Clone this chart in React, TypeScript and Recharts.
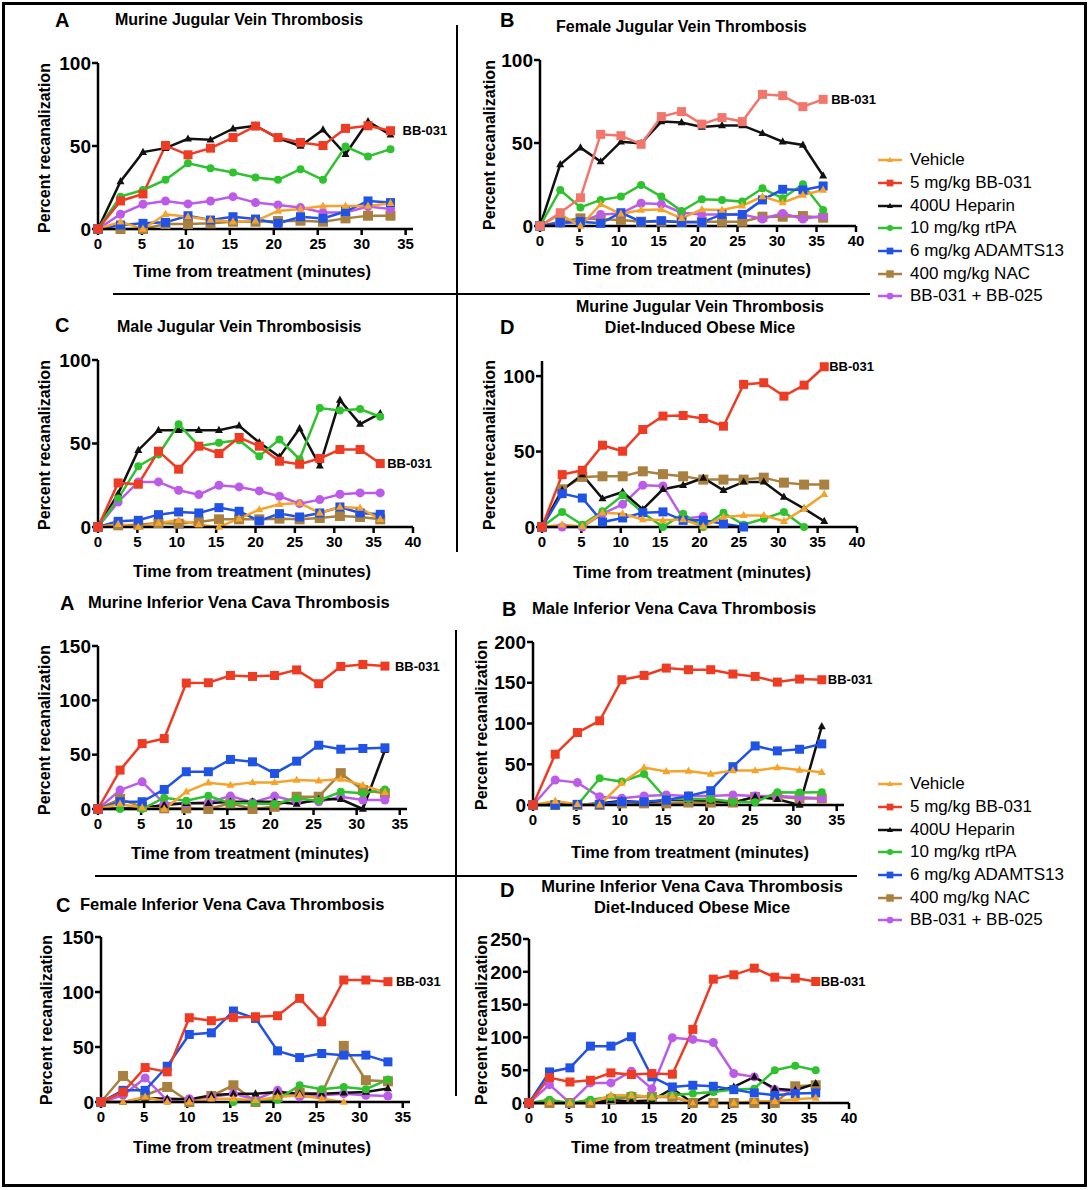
import React from "react";
import { LineChart, Line, XAxis, YAxis, LabelList } from "recharts";

type Key = "vehicle" | "bb031" | "heparin" | "rtpa" | "ada" | "nac" | "combo";
type Shape = "square" | "triangle" | "circle";
type Series = Partial<Record<Key, (number | null)[]>>;

const FONT = "'Liberation Sans', Arial, Helvetica, sans-serif";

// sampling times (minutes)
const TIME = [0, 2.56, 5.12, 7.68, 10.24, 12.8, 15.36, 17.92, 20.48, 23.04, 25.6, 28.16, 30.72, 33.28, 35.84];

const X_TICKS_35 = [0, 5, 10, 15, 20, 25, 30, 35];
const X_TICKS_40 = [0, 5, 10, 15, 20, 25, 30, 35, 40];

const GROUPS: { key: Key; name: string; color: string; shape: Shape; size: number }[] = [
  { key: "vehicle", name: "Vehicle", color: "#F5A32A", shape: "triangle", size: 8 },
  { key: "bb031", name: "5 mg/kg BB-031", color: "#EE3B24", shape: "square", size: 9 },
  { key: "heparin", name: "400U Heparin", color: "#111111", shape: "triangle", size: 8 },
  { key: "rtpa", name: "10 mg/kg rtPA", color: "#2EC22E", shape: "circle", size: 8 },
  { key: "ada", name: "6 mg/kg ADAMTS13", color: "#2052E6", shape: "square", size: 9 },
  { key: "nac", name: "400 mg/kg NAC", color: "#A9803F", shape: "square", size: 10 },
  { key: "combo", name: "BB-031 + BB-025", color: "#BC5BEA", shape: "circle", size: 9 },
];
const DRAW_ORDER: Key[] = ["nac", "combo", "heparin", "rtpa", "ada", "vehicle", "bb031"];

// jugular vein, all mice
const jvMurine: Series = {
  vehicle: [0, 4.4, 0, 8.9, 7.4, 5.4, 4.4, 4.8, 10.9, 12.1, 13.9, 13.9, 13.9, 15.5],
  bb031: [0, 16.9, 21.1, 50.3, 44.7, 48.7, 55.1, 62, 55.1, 52.1, 50.3, 60.6, 62.2, 59.2],
  heparin: [0, 28.6, 46.3, 48.7, 54.3, 53.7, 60.4, 62.2, 54.7, 50, 59.8, 45, 64.8, 56.7],
  rtpa: [0, 19.5, 23.5, 29.6, 39.6, 36.6, 34, 31, 29.6, 36, 29.6, 49.7, 43.7, 48.1],
  ada: [0, 2.4, 3.4, 4, 8, 5.4, 7.4, 6, 3.4, 7.4, 6.4, 10.5, 16.9, 15.9],
  nac: [0, 0, 0, 3, 3, 3.4, 4.4, 4.4, 4.8, 5, 4.4, 6.4, 8, 8],
  combo: [0, 8.9, 14.9, 16.9, 15.1, 16.9, 19.5, 15.9, 14.5, 12.9, 9.9, 9.9, 13.5, 12.1],
};

// jugular vein, female
const jvFemale: Series = {
  vehicle: [0, 7, 0, 13.1, 7.2, 9.6, 10, 4.6, 10, 9.6, 12.2, 17.7, 14.1, 18.7, 21.7],
  bb031: [0, 8, 17, 55.2, 54.4, 49.2, 65.9, 68.9, 61.4, 65.3, 62.9, 79.3, 78.5, 71.9, 76.3],
  heparin: [0, 37.1, 47.2, 38.8, 50.8, 49.8, 62.9, 62.4, 59.6, 60.6, 60.6, 55.8, 50.8, 48.8, 30.3],
  rtpa: [0, 21.7, 11.2, 15.7, 17.7, 24.7, 17.7, 9, 16.1, 15.7, 14.7, 22.7, 16.7, 25.1, 9.6],
  ada: [0, 2, 2.6, 1.6, 8, 2.6, 3.2, 2.2, 2.2, 7, 7, 15.7, 22.1, 21.7, 24.1],
  nac: [0, 2.6, 4.6, 4, 3.6, 2.6, 2.6, 2.6, 2.6, 2.6, 2.6, 5.6, 5.6, 6, 5],
  combo: [0, 1.6, 2.6, 7, 7.6, 13.7, 13.2, 8, 7, 7, 7, 4.2, 7.6, 4.2, 6.2],
};

// jugular vein, male
const jvMale: Series = {
  vehicle: [0, 1.6, 0, 2.4, 4, 1.4, 0, 5, 10.4, 13.6, 14.4, 8.4, 12, 11.4, 4.6],
  bb031: [0, 26.4, 25.6, 45.4, 34.6, 48.4, 44, 53.6, 48.4, 39.4, 37.6, 41, 46.4, 46.4, 38],
  heparin: [0, 20, 46, 58, 58, 58, 58, 60.6, 50.6, 42, 59, 36.6, 76, 61.6, 68],
  rtpa: [0, 17, 36.4, 43.4, 61.6, 48.4, 50.4, 52, 42.4, 52.4, 40.6, 71.2, 69.8, 70.6, 66],
  ada: [0, 3.4, 4, 7.4, 9, 8.4, 11.6, 9.4, 3.6, 8, 6, 8.4, 12, 8.4, 7.6],
  nac: [0, 1, 1.4, 2.4, 2, 3, 4.6, 4.6, 4.6, 5, 4.6, 5.4, 6.6, 6, 4.6],
  combo: [0, 15, 27, 27, 22, 19.4, 25, 24, 21.6, 18.4, 14, 16.4, 19.6, 20.4, 20.4],
};

// jugular vein, diet-induced obese
const jvObese: Series = {
  vehicle: [0, 1.5, 0.4, 9.5, 8.8, 5, 4.4, 5, 0.4, 6.6, 7.7, 7.7, 3.8, 12.2, 21.7],
  bb031: [0, 34.7, 37.6, 54.2, 50.2, 64.6, 73.5, 73.9, 71.9, 66.8, 94.5, 95.6, 86.7, 94, 106.2],
  heparin: [0, 24.3, 34.7, 18.8, 23.2, 11.7, 25, 27.7, 32.5, 24.3, 29.9, 29.9, 19.9, 12.2, 3.8],
  rtpa: [0, 10, 1.5, 10.4, 21, 9.5, 0, 8.8, 0, 9.5, 1.5, 5.5, 10, 0],
  ada: [0, 22.1, 19.2, 3.3, 6, 9.5, 10, 4.4, 4.4, 2.2, 0],
  nac: [0, 25, 33.2, 33.6, 33.6, 36.9, 35, 33.6, 31.4, 31.4, 31.4, 32.7, 29.4, 28.1, 28.1],
  combo: [0, 0, 0, 8.8, 15, 27.7, 27.2, 5.5, 7],
};

// inferior vena cava, all mice
const ivcMurine: Series = {
  vehicle: [0, 4.6, 1.2, 0, 15.9, 24.2, 22, 24.5, 24.5, 26.6, 26, 27.5, 22, 15.3],
  bb031: [0, 35.8, 60.2, 64.8, 115.9, 116.2, 122.9, 122, 122.9, 128, 115.3, 131.2, 133, 131.5],
  heparin: [0, 0.6, 1.2, 3.7, 5.2, 5.2, 6.7, 6.7, 6.7, 4.6, 8.9, 8.9, 0, 54.1],
  rtpa: [0, 0, 0, 10.4, 7.6, 12.2, 5.2, 5.2, 4.6, 9.8, 7.6, 15.9, 14.4, 18],
  ada: [0, 6.7, 6.7, 18, 34.3, 34.3, 45.6, 43.4, 32.7, 44, 58.7, 55, 55.7, 56.3],
  nac: [0, 9.2, 2, 0.6, 0.6, 0, 5.2, 0, 2, 11.3, 11.3, 33, 17.4, 14.4],
  combo: [0, 17.4, 25, 5.2, 5.2, 6.1, 11.9, 6.1, 11.9, 6.7, 6.7, 11.3, 8.3, 8.3],
};

// inferior vena cava, male
const ivcMale: Series = {
  vehicle: [0, 5, 0.8, 0, 27, 45.9, 41, 41.8, 38.1, 42.2, 42.2, 45.9, 43, 40.2],
  bb031: [0, 62.3, 88.9, 103.3, 153.7, 159, 168, 166, 166, 160.7, 157.8, 150.8, 154.5, 153.7],
  heparin: [0, 2, 0, 2, 5.3, 2.9, 6.1, 6.1, 5.3, 2.9, 10.2, 7, 0, 96.3],
  rtpa: [0, 0, 0, 32.8, 28.7, 38.1, 7.4, 7.4, 7.4, 4, 3.3, 15.6, 15.2, 15.6],
  ada: [0, 0, 0.8, 0.8, 4, 4, 6, 11, 17.6, 47, 72.5, 66.4, 68.4, 75],
  nac: [0, 0, 0, 0, 2, 2, 2, 3, 3, 3, 10, 10, 8, 8],
  combo: [0, 30.7, 27.5, 10.2, 8.2, 11, 12.3, 11, 11, 12.3, 11, 11, 9.4, 8.2],
};

// inferior vena cava, female
const ivcFemale: Series = {
  vehicle: [0, 0, 4.6, 0, 0, 3, 3, 1.5, 4.6, 6.1, 3, 0],
  bb031: [0, 9.1, 31.3, 27.4, 76.6, 73.9, 76.9, 77.5, 78.4, 94.2, 72.9, 110.9, 110.9, 109.4],
  heparin: [0, 0, 3.6, 3, 2.4, 6.1, 7.6, 7.6, 9.1, 7.6, 7.6, 8.5, 9.1, 12.2],
  rtpa: [null, null, null, null, null, null, 0, 0, 2, 15.2, 11.6, 13.7, 11.6, 20.4],
  ada: [0, 10.6, 10.6, 32.5, 61.4, 62.9, 82.7, 76, 46.5, 40.4, 44.1, 42.6, 42.6, 36.5],
  nac: [0, 23.7, 6.1, 13.7, 0, 5.5, 15.2, 0, 4.6, 8.5, 7.6, 51, 19.8, 18.8],
  combo: [0, 6.1, 21.9, 1.5, 3, 4.6, 7.6, 2.1, 10.6, 4.6, 6.1, 7.6, 6.1, 5.5],
};

// inferior vena cava, diet-induced obese
const ivcObese: Series = {
  vehicle: [0, 0, 0, 0, 11.7, 11.7, 9.2, 10.7, 0, 0, 0, 2.6, 2.6, 5.6, 7.7],
  bb031: [0, 38.8, 32, 34.7, 45.9, 43.4, 44.9, 43.9, 112.2, 188.8, 195.4, 205.6, 191.8, 190.3, 185.2],
  heparin: [0, 0, 0, 0, 4, 2.6, 4, 21.9, 0, 16.8, 24.5, 39.8, 21.9, 19.4, 29.6],
  rtpa: [0, 5.1, 0, 5.1, 9.2, 11.7, 9.2, 11.7, 14.3, 16.8, 20.4, 21.9, 50, 56.6, 50],
  ada: [0, 47.4, 53.6, 86.7, 86.7, 101, 39.8, 24.5, 27, 25.5, 20.4, 15.3, 11.7, 14.3, 15.3],
  nac: [0, 0, 0, 0, 5.6, 9.2, 9.2, 9.2, 0, 0, 0, 0, 0, 25.5, 27],
  combo: [0, 28, 0, 30.6, 30.6, 48.5, 21.9, 99.5, 96.9, 92.3, 44.9, 39.8, 20.4, 16.8],
};

function mark(shape: Shape, color: string, cx: number, cy: number, s: number, key?: string) {
  if (shape === "square") {
    return <rect key={key} x={cx - s / 2} y={cy - s / 2} width={s} height={s} fill={color} />;
  }
  if (shape === "circle") {
    return <circle key={key} cx={cx} cy={cy} r={s / 2} fill={color} />;
  }
  const h = s * 0.9;
  return (
    <polygon
      key={key}
      points={`${cx},${cy - h * 0.62} ${cx - s / 2},${cy + h * 0.38} ${cx + s / 2},${cy + h * 0.38}`}
      fill={color}
    />
  );
}

function Txt({
  x, y, size, bold = true, center = false, children,
}: { x: number; y: number; size: number; bold?: boolean; center?: boolean; children: React.ReactNode }) {
  return (
    <div
      style={{
        position: "absolute",
        left: x,
        top: y - size * 0.6,
        fontSize: size,
        lineHeight: `${size * 1.2}px`,
        fontWeight: bold ? 700 : 400,
        whiteSpace: "nowrap",
        textAlign: center ? "center" : "left",
        transform: center ? "translateX(-50%)" : undefined,
      }}
    >
      {children}
    </div>
  );
}

interface PanelProps {
  series: Series;
  xMax: number;
  xTicks: number[];
  yMax: number;
  yTicks: number[];
  axisX: number;
  xEnd: number;
  yTop: number;
  yZero: number;
  tagDx: number;
  redColor?: string;
  xTitle: [number, number];
  yLabel: [number, number];
}

function Panel(p: PanelProps) {
  const mLeft = 60;
  const mTop = 12;
  const mRight = 70;
  const mBottom = 32;
  const w = p.xEnd - p.axisX + mLeft + mRight;
  const h = p.yZero - p.yTop + mTop + mBottom;
  const rows = TIME.map((t, i) => {
    const row: Record<string, number | null | undefined> = { t };
    GROUPS.forEach((g) => {
      const arr = p.series[g.key];
      row[g.key] = arr && i < arr.length ? arr[i] : undefined;
    });
    return row;
  });
  const lastRed = (p.series.bb031 ?? []).length - 1;
  const axisStyle = { stroke: "#000", strokeWidth: 2.5 };

  return (
    <>
      <div style={{ position: "absolute", left: p.axisX - mLeft, top: p.yTop - mTop }}>
        <LineChart width={w} height={h} data={rows} margin={{ top: mTop, right: mRight, left: 0, bottom: 0 }}>
          <XAxis
            type="number"
            dataKey="t"
            domain={[0, p.xMax]}
            ticks={p.xTicks}
            interval={0}
            height={mBottom}
            tickSize={6}
            tickMargin={3}
            axisLine={axisStyle}
            tickLine={axisStyle}
            tick={{ fontSize: 15, fontWeight: 700, fill: "#000", fontFamily: FONT }}
          />
          <YAxis
            type="number"
            domain={[0, p.yMax]}
            ticks={p.yTicks}
            interval={0}
            width={mLeft}
            tickSize={6}
            tickMargin={1}
            axisLine={axisStyle}
            tickLine={axisStyle}
            tick={{ fontSize: 19, fontWeight: 700, fill: "#000", fontFamily: FONT }}
          />
          {DRAW_ORDER.map((k) => {
            const g = GROUPS.find((x) => x.key === k)!;
            if (!p.series[k]) return null;
            const color = k === "bb031" && p.redColor ? p.redColor : g.color;
            return (
              <Line
                key={k}
                dataKey={k}
                type="linear"
                stroke={color}
                strokeWidth={2.5}
                isAnimationActive={false}
                activeDot={false}
                dot={(d: any) => {
                  if (d.cx == null || d.cy == null || d.value == null || Number.isNaN(d.cy)) {
                    return <g key={`e${d.index}`} />;
                  }
                  return mark(g.shape, color, d.cx, d.cy, g.size, `m${d.index}`);
                }}
              >
                {k === "bb031" && (
                  <LabelList
                    dataKey={k}
                    content={(l: any) =>
                      l.index === lastRed ? (
                        <text
                          x={Number(l.x) + p.tagDx}
                          y={Number(l.y)}
                          dominantBaseline="central"
                          fontSize={13}
                          fontWeight={700}
                          fontFamily={FONT}
                          fill="#000"
                        >
                          BB-031
                        </text>
                      ) : null
                    }
                  />
                )}
              </Line>
            );
          })}
        </LineChart>
      </div>
      <Txt x={p.xTitle[0]} y={p.xTitle[1]} size={16.5} center>
        Time from treatment (minutes)
      </Txt>
      <div
        style={{
          position: "absolute",
          left: p.yLabel[0],
          top: p.yLabel[1],
          transform: "translate(-50%, -50%) rotate(-90deg)",
          fontSize: 16,
          fontWeight: 700,
          whiteSpace: "nowrap",
          lineHeight: "18px",
        }}
      >
        Percent recanalization
      </div>
    </>
  );
}

function Legend({ top }: { top: number }) {
  return (
    <div style={{ position: "absolute", left: 876, top }}>
      {GROUPS.map((g) => (
        <div key={g.key} style={{ display: "flex", alignItems: "center", height: 22.7 }}>
          <svg width={30} height={14}>
            <line x1={2} x2={26} y1={7} y2={7} stroke={g.color} strokeWidth={2.5} />
            {mark(g.shape, g.color, 14, 7, g.size * 0.75)}
          </svg>
          <span style={{ fontSize: 17, marginLeft: 4, lineHeight: "20px" }}>{g.name}</span>
        </div>
      ))}
    </div>
  );
}

function Rule({ x, y, w, h }: { x: number; y: number; w: number; h: number }) {
  return <div style={{ position: "absolute", left: x, top: y, width: w, height: h, background: "#000" }} />;
}

export default function App() {
  return (
    <div
      style={{
        position: "absolute",
        left: 0,
        top: 0,
        width: 1090,
        height: 1190,
        background: "#fff",
        fontFamily: FONT,
        color: "#000",
      }}
    >
      <div
        style={{
          position: "absolute",
          left: 2,
          top: 2,
          width: 1085,
          height: 1185,
          border: "3px solid #000",
          boxSizing: "border-box",
        }}
      />

      {/* dividers */}
      <Rule x={456} y={25} w={2} h={527} />
      <Rule x={113} y={293} w={757} h={2} />
      <Rule x={455} y={630} w={2} h={466} />
      <Rule x={95} y={875} w={762} h={2} />

      {/* jugular vein */}
      <Txt x={55} y={20} size={20}>A</Txt>
      <Txt x={115} y={20} size={16}>Murine Jugular Vein Thrombosis</Txt>
      <Panel
        series={jvMurine} xMax={35} xTicks={X_TICKS_35} yMax={100} yTicks={[0, 50, 100]}
        axisX={98} xEnd={413} yTop={63} yZero={229} tagDx={12}
        xTitle={[252, 272]} yLabel={[45, 148]}
      />

      <Txt x={500} y={20} size={20}>B</Txt>
      <Txt x={556} y={27} size={16}>Female Jugular Vein Thrombosis</Txt>
      <Panel
        series={jvFemale} xMax={40} xTicks={X_TICKS_40} yMax={100} yTicks={[0, 50, 100]}
        axisX={540} xEnd={856} yTop={60} yZero={226} tagDx={8} redColor="#F2766C"
        xTitle={[692, 270]} yLabel={[490, 145]}
      />

      <Txt x={55} y={325} size={20}>C</Txt>
      <Txt x={117} y={327} size={16}>Male Jugular Vein Thrombosisis</Txt>
      <Panel
        series={jvMale} xMax={40} xTicks={X_TICKS_40} yMax={100} yTicks={[0, 50, 100]}
        axisX={98} xEnd={413} yTop={360} yZero={527} tagDx={7}
        xTitle={[252, 572]} yLabel={[45, 445]}
      />

      <Txt x={500} y={327} size={20}>D</Txt>
      <Txt x={700} y={307} size={16} center>Murine Jugular Vein Thrombosis</Txt>
      <Txt x={700} y={328} size={16} center>Diet-Induced Obese Mice</Txt>
      <Panel
        series={jvObese} xMax={40} xTicks={X_TICKS_40} yMax={110} yTicks={[0, 50, 100]}
        axisX={542} xEnd={857} yTop={361} yZero={527} tagDx={5}
        xTitle={[692, 573]} yLabel={[490, 445]}
      />

      <Legend top={149} />

      {/* inferior vena cava */}
      <Txt x={60} y={603} size={20}>A</Txt>
      <Txt x={88} y={603} size={16.5}>Murine Inferior Vena Cava Thrombosis</Txt>
      <Panel
        series={ivcMurine} xMax={35} xTicks={X_TICKS_35} yMax={150} yTicks={[0, 50, 100, 150]}
        axisX={98} xEnd={407} yTop={646} yZero={809} tagDx={10}
        xTitle={[250, 854]} yLabel={[45, 730]}
      />

      <Txt x={502} y={609} size={20}>B</Txt>
      <Txt x={532} y={609} size={16.5}>Male Inferior Vena Cava Thrombosis</Txt>
      <Panel
        series={ivcMale} xMax={35} xTicks={X_TICKS_35} yMax={200} yTicks={[0, 50, 100, 150, 200]}
        axisX={533} xEnd={844} yTop={642} yZero={805} tagDx={6}
        xTitle={[690, 853]} yLabel={[482, 725]}
      />

      <Legend top={773} />

      <Txt x={56} y={905} size={20}>C</Txt>
      <Txt x={80} y={905} size={16.5}>Female Inferior Vena Cava Thrombosis</Txt>
      <Panel
        series={ivcFemale} xMax={35} xTicks={X_TICKS_35} yMax={150} yTicks={[0, 50, 100, 150]}
        axisX={101} xEnd={410} yTop={937} yZero={1102} tagDx={8}
        xTitle={[252, 1148]} yLabel={[47, 1020]}
      />

      <Txt x={500} y={890} size={20}>D</Txt>
      <Txt x={692} y={887} size={16.5} center>Murine Inferior Vena Cava Thrombosis</Txt>
      <Txt x={692} y={908} size={16.5} center>Diet-Induced Obese Mice</Txt>
      <Panel
        series={ivcObese} xMax={40} xTicks={X_TICKS_40} yMax={250} yTicks={[0, 50, 100, 150, 200, 250]}
        axisX={529} xEnd={849} yTop={939} yZero={1103} tagDx={5}
        xTitle={[690, 1148]} yLabel={[482, 1020]}
      />
    </div>
  );
}
